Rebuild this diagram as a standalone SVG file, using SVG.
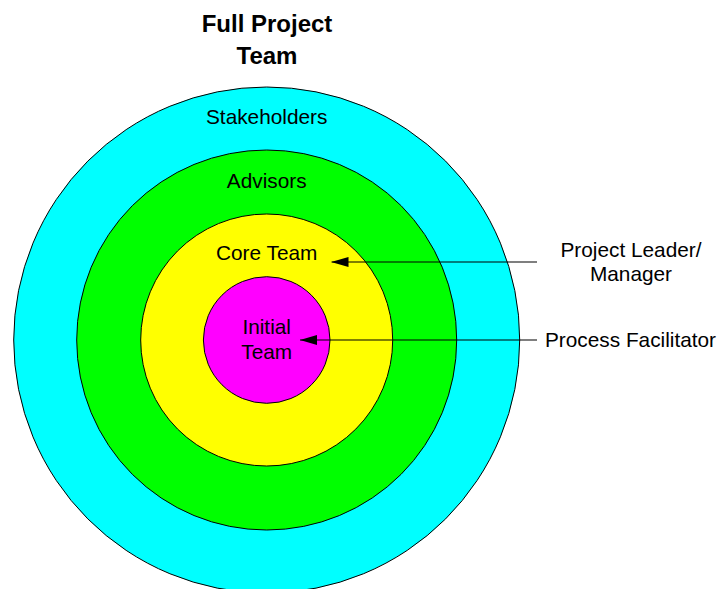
<svg xmlns="http://www.w3.org/2000/svg" width="717" height="589" viewBox="0 0 717 589">
<style>
.ring{stroke:#000;stroke-width:1}
.lbl{font-family:"Liberation Sans",Arial,sans-serif;font-size:20.8px;fill:#000}
.ttl{font-family:"Liberation Sans",Arial,sans-serif;font-size:24px;font-weight:bold;fill:#000}
.conn{stroke:#000;stroke-width:1.2;fill:none;marker-end:url(#ah)}
</style>
<defs>
<marker id="ah" viewBox="0 0 17 10" refX="17" refY="5" markerWidth="17" markerHeight="10" markerUnits="userSpaceOnUse" orient="auto">
<path d="M0,0 L17,5 L0,10 Z" fill="#000"/>
</marker>
</defs>
<rect width="717" height="589" fill="#fff"/>
<g id="title">
<text class="ttl" x="267" y="32" text-anchor="middle">Full Project</text>
<text class="ttl" x="267" y="63.5" text-anchor="middle">Team</text>
</g>
<g id="stakeholders">
<circle class="ring" cx="266.7" cy="340" r="253" fill="#00ffff"/>
<text class="lbl" x="266.7" y="124" text-anchor="middle">Stakeholders</text>
</g>
<g id="advisors">
<circle class="ring" cx="266.7" cy="340" r="190" fill="#00ff00"/>
<text class="lbl" x="266.7" y="188" text-anchor="middle">Advisors</text>
</g>
<g id="core-team">
<circle class="ring" cx="266.7" cy="340" r="126" fill="#ffff00"/>
<text class="lbl" x="266.7" y="260" text-anchor="middle">Core Team</text>
</g>
<g id="initial-team">
<circle class="ring" cx="266.7" cy="340" r="63.3" fill="#ff00ff"/>
<text class="lbl" x="266.7" y="334" text-anchor="middle">Initial</text>
<text class="lbl" x="266.7" y="358.5" text-anchor="middle">Team</text>
</g>
<g id="project-leader">
<text class="lbl" x="631" y="257" text-anchor="middle">Project Leader/</text>
<text class="lbl" x="631" y="280.5" text-anchor="middle">Manager</text>
</g>
<g id="process-facilitator">
<text class="lbl" x="545" y="347">Process Facilitator</text>
</g>
<g id="connectors">
<path class="conn" d="M537,262 L331.5,262"/>
<path class="conn" d="M537,340 L300,340"/>
</g>
</svg>
